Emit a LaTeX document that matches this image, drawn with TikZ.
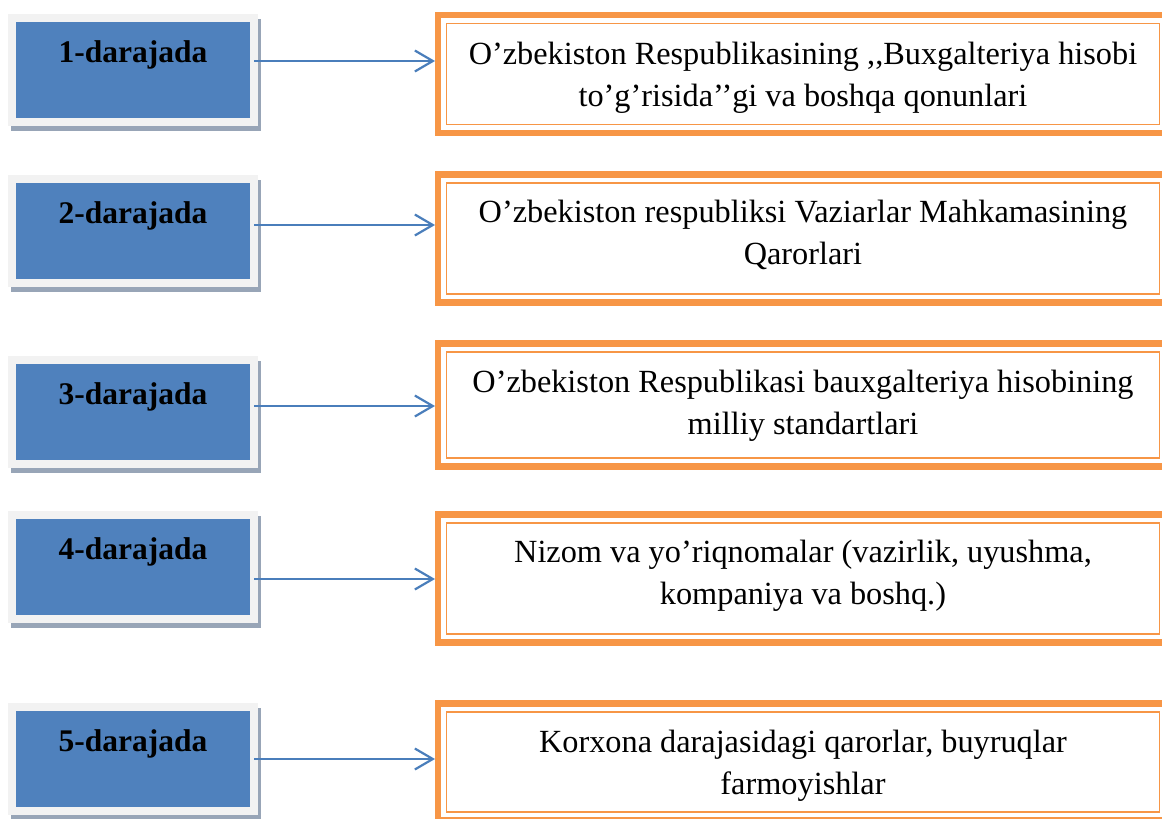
\documentclass[tikz,border=0pt]{standalone}
\usepackage{fontspec}
\setmainfont{Liberation Serif}
\usetikzlibrary{arrows.meta, shadows}
\definecolor{levelFill}{RGB}{79, 129, 189}
\definecolor{levelRim}{RGB}{242, 242, 242}
\definecolor{levelShade}{RGB}{152, 165, 183}
\definecolor{docLine}{RGB}{247, 150, 70}
\definecolor{linkColor}{RGB}{74, 126, 187}
% two centred lines, first line raised by a strut of #1 pt
\newcommand{\docText}[3][30]{\rule{0pt}{#1pt}#2\\#3\rule[-12pt]{0pt}{12pt}}
\tikzset{
    level_box/.style={
        rectangle,
        draw=levelRim,
        fill=levelFill,
        line width=8pt,
        outer sep=0pt,
        minimum width=242pt,
        inner ysep=8pt,
        text height=36pt,
        text depth=52pt,
        font=\fontsize{31.5}{37}\selectfont\bfseries,
        drop shadow={shadow xshift=3pt, shadow yshift=-5pt,
            fill=levelShade, draw=levelShade, line width=8pt, opacity=1}
    },
    doc_box/.style={
        rectangle,
        draw=docLine,
        line width=1.8pt,
        outer sep=0pt,
        minimum width=713pt,
        align=center,
        font=\fontsize{32.3}{42}\selectfont
    },
    doc_frame/.style={
        draw=docLine,
        line width=6.7pt
    },
    level_link/.style={
        -{Straight Barb[length=18pt, width=21pt]},
        line width=2.2pt,
        draw=linkColor,
        shorten >=11.5pt
    }
}
\begin{document}
\begin{tikzpicture}[x=1pt, y=-1pt]
    \useasboundingbox (0,0) rectangle (1162,819);
    \clip (0,0) rectangle (1162,819);

    % levels
    \node[level_box] (lvl1) at (133,70) {1-darajada};
    \node[level_box] (lvl2) at (133,231) {2-darajada};
    \node[level_box] (lvl3) at (133,412) {3-darajada};
    \node[level_box] (lvl4) at (133,567) {4-darajada};
    \node[level_box] (lvl5) at (133,759) {5-darajada};

    % documents
    \node[doc_box, minimum height=101pt] (doc1) at (803,74)
        {\docText[35]{O’zbekiston Respublikasining ,{},Buxgalteriya hisobi}{to’g’risida’’gi va boshqa qonunlari}};
    \node[doc_box, minimum height=111pt] (doc2) at (803,238.5)
        {\docText[22.4]{O’zbekiston respubliksi Vaziarlar Mahkamasining}{Qarorlari}};
    \node[doc_box, minimum height=106pt] (doc3) at (803,405)
        {\docText[29.4]{O’zbekiston Respublikasi bauxgalteriya hisobining}{milliy standartlari}};
    \node[doc_box, minimum height=111pt] (doc4) at (803,578.5)
        {\docText[20.4]{Nizom va yo’riqnomalar (vazirlik, uyushma,}{kompaniya va boshq.)}};
    \node[doc_box, minimum height=100pt] (doc5) at (803,762)
        {\docText[35.4]{Korxona darajasidagi qarorlar, buyruqlar}{farmoyishlar}};

    \foreach \i in {1,...,5}
        \draw[doc_frame] ([shift={(-8.5pt,8.5pt)}]doc\i.north west)
            rectangle ([shift={(8.5pt,-8.5pt)}]doc\i.south east);

    % links
    \foreach \i/\y in {1/61, 2/225, 3/406, 4/579, 5/759}
        \draw[level_link] (lvl\i.east |- 0,\y) -- (doc\i.west |- 0,\y);
\end{tikzpicture}
\end{document}
